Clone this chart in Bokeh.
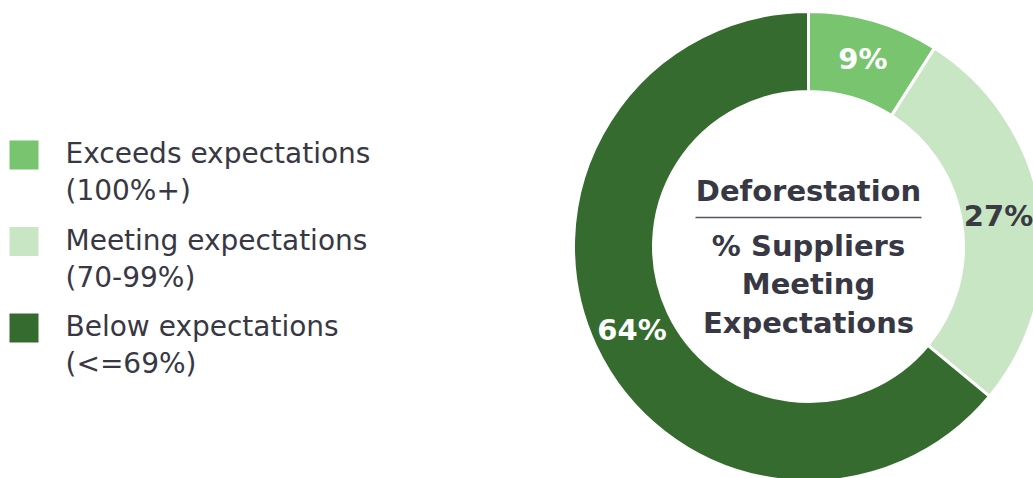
import math
from bokeh.plotting import figure
from bokeh.models import Range1d, ColumnDataSource
from bokeh.core.properties import value
from bokeh.embed import file_html
from bokeh.resources import INLINE

# ---- data ----
categories = ["Exceeds expectations", "Meeting expectations", "Below expectations"]
ranges_txt = ["(100%+)", "(70-99%)", "(<=69%)"]
shares = [9, 27, 64]
colors = ["#78c46f", "#c8e6c4", "#356b2e"]
label_colors = ["#ffffff", "#3a3a42", "#ffffff"]
center_title = "Deforestation"
center_sub = ["% Suppliers", "Meeting", "Expectations"]

W, H = 1033, 478
FONT = "DejaVu Sans"
TXT = "#383844"

p = figure(width=W, height=H, output_backend="svg", toolbar_location=None,
           x_range=Range1d(0, W), y_range=Range1d(0, H), min_border=0)
p.axis.visible = False
p.grid.visible = False
p.outline_line_color = None
p.background_fill_color = "white"
p.border_fill_color = "white"

# donut geometry (pixel-like data units)
cx, cy = 808, 232
r_out, r_in = 235, 155

total = sum(shares)
starts, ends, mids = [], [], []
acc = 0
for s in shares:
    a0 = math.radians(90 - 360 * acc / total)
    a1 = math.radians(90 - 360 * (acc + s) / total)
    starts.append(a0)
    ends.append(a1)
    mids.append((a0 + a1) / 2)
    acc += s

src = ColumnDataSource(dict(start=starts, end=ends, color=colors))
p.annular_wedge(x=cx, y=cy, inner_radius=r_in, outer_radius=r_out,
                start_angle="start", end_angle="end", direction="clock",
                fill_color="color", line_color="white", line_width=3, source=src)

r_lab = (r_in + r_out) / 2
half_label = 35
lx = [min(cx + r_lab * math.cos(m), W - half_label) for m in mids]
ly = [cy + r_lab * math.sin(m) for m in mids]
lsrc = ColumnDataSource(dict(x=lx, y=ly, t=[f"{s}%" for s in shares], c=label_colors))
p.text(x="x", y="y", text="t", text_color="c", source=lsrc,
       text_font=value(FONT), text_font_style="bold", text_font_size="29px",
       text_align="center", text_baseline="middle")

# center text
p.text(x=[cx], y=[cy + 56], text=[center_title], text_color=TXT,
       text_font=value(FONT), text_font_style="bold", text_font_size="29px",
       text_align="center", text_baseline="middle")
p.segment(x0=[cx - 113], y0=[cy + 29], x1=[cx + 113], y1=[cy + 29],
          line_color="#55555f", line_width=1.5)
sub_y = [cy + 1 - 38.5 * i for i in range(len(center_sub))]
p.text(x=[cx] * len(center_sub), y=sub_y, text=center_sub, text_color=TXT,
       text_font=value(FONT), text_font_style="bold", text_font_size="29px",
       text_align="center", text_baseline="middle")

# legend
sq = 29
base_top = 338  # data y of first square top
step = 86.5
for i, (cat, rt, col) in enumerate(zip(categories, ranges_txt, colors)):
    top = base_top - step * i
    p.rect(x=[9 + sq / 2], y=[top - sq / 2], width=sq, height=sq,
           fill_color=col, line_color=None)
    p.text(x=[65, 65], y=[top - 13, top - 50], text=[cat, rt], text_color=TXT,
           text_font=value(FONT), text_font_size="28px",
           text_align="left", text_baseline="middle")

open("out.html", "w").write(file_html(p, INLINE))
